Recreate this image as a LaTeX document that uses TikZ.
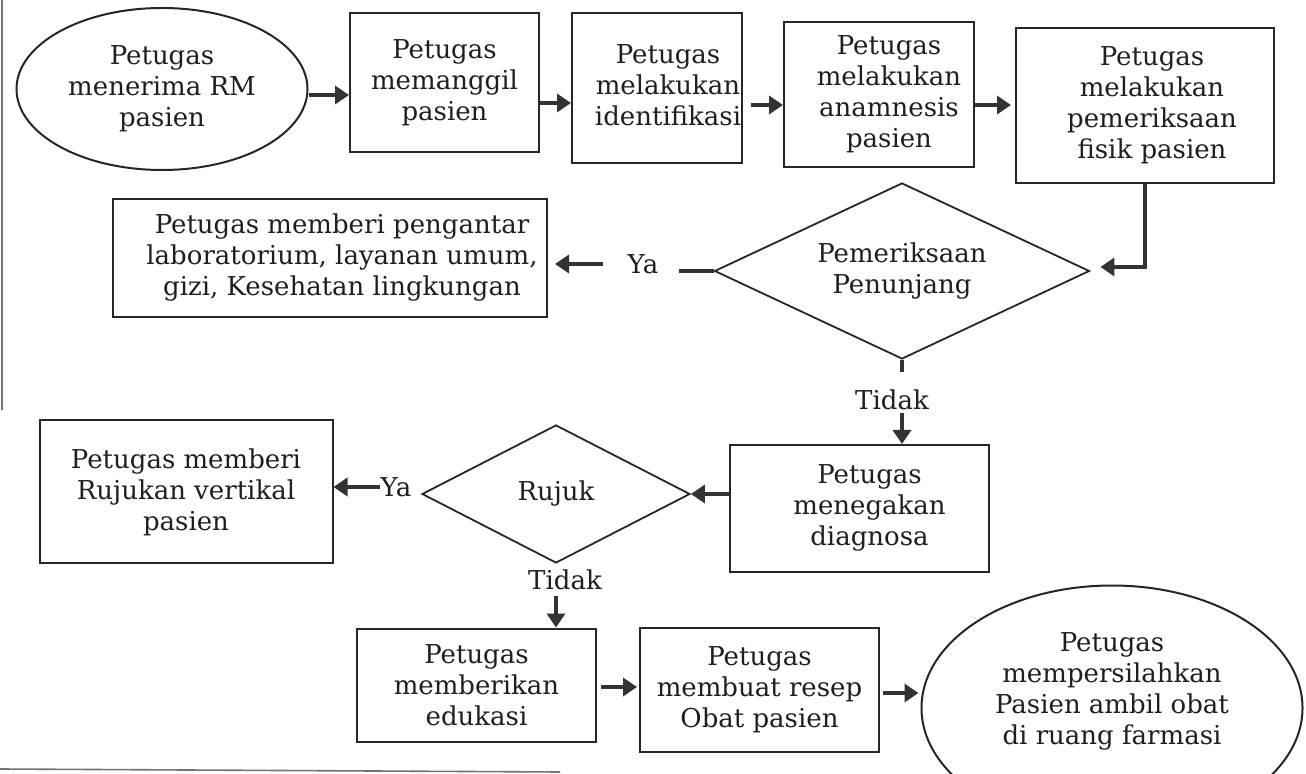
\documentclass[tikz,border=0pt]{standalone}
\usepackage{fontspec}
\setmainfont{DejaVu Serif}
\usetikzlibrary{shapes.geometric,arrows.meta,calc}
% centred lines pushed right by #1 inside their box
\newcommand{\offsettext}[2]{\hspace*{#1}\begin{tabular}{@{}c@{}}#2\end{tabular}}

\begin{document}
\begin{tikzpicture}[x=0.5pt,y=-0.5pt,
  every node/.style={font=\fontsize{13}{15.5}\selectfont, text=black!88, align=center, inner sep=0pt},
  procbox/.style={draw=black!85, line width=1pt, rectangle},
  oval/.style={draw=black!85, line width=1pt, ellipse},
  decide/.style={draw=black!85, line width=0.9pt, diamond, shape aspect=2},
  flow/.style={draw=black!80, line width=2.4pt, -{Triangle[length=7pt,width=9pt]}},
  stub/.style={draw=black!80, line width=2.4pt},
  scanedge/.style={draw=black!55, line width=0.8pt}
]
\useasboundingbox (0,0) rectangle (1306,774);
\clip (0,0) rectangle (1306,774);

% ---- top row ----
\node[oval, minimum width=145.5pt, minimum height=81pt] (E1) at (162,89)
  {Petugas\\menerima RM\\pasien};
\node[procbox, minimum width=94.5pt, minimum height=69.5pt] (B2) at (444.5,82.5)
  {Petugas\\memanggil\\pasien};
\node[procbox, minimum width=85pt, minimum height=75pt] (B3) at (657,88)
  {\offsettext{11pt}{Petugas\\melakukan\\identifikasi}};
\node[procbox, minimum width=95pt, minimum height=72.5pt] (B4) at (879,94.5)
  {\offsettext{10pt}{Petugas\\melakukan\\anamnesis\\pasien}};
\node[procbox, minimum width=129pt, minimum height=77.5pt] (B5) at (1145,105.5)
  {\offsettext{7pt}{Petugas\\melakukan\\pemeriksaan\\fisik pasien}};

% ---- first decision ----
\node[decide, minimum width=187.5pt, minimum height=88pt] (D1) at (902,271)
  {Pemeriksaan\\Penunjang};
\node[procbox, minimum width=217pt, minimum height=59pt] (B6) at (330,258)
  {\offsettext{12pt}{Petugas memberi pengantar\\laboratorium, layanan umum,\\gizi, Kesehatan lingkungan}};
\node (ya1) at (643,264) {Ya};
\node (tidak1) at (892,400) {Tidak};

% ---- second decision ----
\node[procbox, minimum width=129.5pt, minimum height=63.5pt] (B8) at (859.5,508.5)
  {\offsettext{10pt}{Petugas\\menegakan\\diagnosa}};
\node[decide, minimum width=134pt, minimum height=69pt] (D2) at (556,494) {Rujuk};
\node[procbox, minimum width=146.5pt, minimum height=71.5pt] (B7) at (186,492)
  {Petugas memberi\\Rujukan vertikal\\pasien};
\node (ya2) at (396,487) {Ya};
\node (tidak2) at (565,580) {Tidak};

% ---- bottom row ----
\node[procbox, minimum width=119.5pt, minimum height=56.5pt] (B9) at (476.5,685)
  {Petugas\\memberikan\\edukasi};
\node[procbox, minimum width=119.5pt, minimum height=62pt] (B10) at (759.5,690)
  {Petugas\\membuat resep\\Obat pasien};
\node[oval, minimum width=190.5pt, minimum height=122.5pt] (E2) at (1112,708)
  {\raisebox{5pt}[0pt][0pt]{\begin{tabular}{@{}c@{}}Petugas\\mempersilahkan\\Pasien ambil obat\\di ruang farmasi\end{tabular}}};

% ---- connectors ----
\draw[flow] (E1.east |- 0,95) -- (B2.west |- 0,95);
\draw[flow] (B2.east |- 0,103) -- (B3.west |- 0,103);
\draw[flow] ($(B3.east |- 0,105)+(8,0)$) -- (B4.west |- 0,105);
\draw[flow] (B4.east |- 0,105) -- ($(B5.west |- 0,105)+(-4,0)$);
\draw[flow] (B5.south) |- ($(D1.east)+(10,-4)$);

\draw[stub, shorten >=10pt] (D1.west) -- (D1.west -| ya1.east);
\draw[flow, shorten <=12pt, shorten >=3.5pt] (ya1.west) -- (ya1.west -| B6.east);

\draw[stub, shorten >=9pt] (D1.south) -- (D1.south |- tidak1.north);
\draw[flow, shorten <=1.5pt] (D1.south |- tidak1.south) -- (D1.south |- B8.north);

\draw[flow] (B8.west |- D2.east) -- (D2.east);
\draw[flow] (ya2.west) -- (ya2.west -| B7.east);
\draw[flow, shorten <=3pt] (D2.south |- tidak2.south) -- (D2.south |- B9.north);

\draw[flow] ($(B9.east |- 0,687)+(4,0)$) -- ($(B10.west |- 0,687)+(-2,0)$);
\draw[flow] ($(B10.east |- 0,693)+(3,0)$) -- ($(E2.west |- 0,693)+(-2,0)$);

% ---- page edges ----
\draw[scanedge] (2,0) -- (2,410);
\draw[scanedge] (0,769) -- (560,772);
\end{tikzpicture}
\end{document}
